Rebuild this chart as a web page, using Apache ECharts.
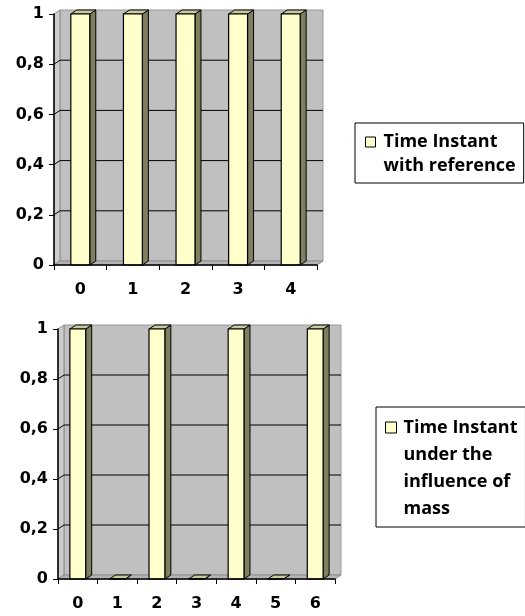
<!DOCTYPE html>
<html>
<head>
<meta charset="utf-8">
<script src="https://cdn.jsdelivr.net/npm/echarts@6/dist/echarts.min.js"></script>
<style>
  html, body { margin: 0; padding: 0; background: #ffffff; }
  #chart { width: 525px; height: 616px; }
</style>
</head>
<body>
<div id="chart"></div>
<script>
// ---- data ----
const categoriesA = ['0', '1', '2', '3', '4'];
const valuesA = [1, 1, 1, 1, 1];
const categoriesB = ['0', '1', '2', '3', '4', '5', '6'];
const valuesB = [1, 0, 1, 0, 1, 0, 1];
const yTicks = [0, 0.2, 0.4, 0.6, 0.8, 1];
const seriesNameA = 'Time Instant\nwith reference';
const seriesNameB = 'Time Instant\nunder the\ninfluence of\nmass';

// ---- style ----
const DX = 6, DY = -4;
const FRONT = '#FFFFCC', SIDE = '#7F7F60', TOP = '#C9C99E';
const tickFont = { fontFamily: 'DejaVu Sans', fontWeight: 'bold', fontSize: 16, color: '#000' };

function wallsRender(params, api) {
  const cs = params.coordSys;
  const L = cs.x, T = cs.y, R = cs.x + cs.width, B = cs.y + cs.height;
  const children = [];
  // back wall
  children.push({ type: 'rect', shape: { x: L + DX, y: T + DY, width: cs.width, height: cs.height },
    style: { fill: '#C0C0C0', stroke: '#9A9A9A', lineWidth: 1 } });
  // left wall
  children.push({ type: 'polygon', shape: { points: [[L, T], [L + DX, T + DY], [L + DX, B + DY], [L, B]] },
    style: { fill: '#CBCBCB', stroke: '#8C8C8C', lineWidth: 1 } });
  // floor
  children.push({ type: 'polygon', shape: { points: [[L, B], [L + DX, B + DY], [R + DX, B + DY], [R, B]] },
    style: { fill: '#B4B4B4', stroke: '#8C8C8C', lineWidth: 1 } });
  // gridlines on back wall
  yTicks.forEach(function (v) {
    if (v === 0 || v === 1) return;
    const y = api.coord([0, v])[1];
    children.push({ type: 'line', shape: { x1: L + DX, y1: y + DY, x2: R + DX, y2: y + DY },
      style: { stroke: '#000', lineWidth: 1 } });
    children.push({ type: 'line', shape: { x1: L, y1: y, x2: L + DX, y2: y + DY },
      style: { stroke: '#000', lineWidth: 1 } });
  });
  return { type: 'group', children: children };
}

function makeBarRender(ratio) {
  return function (params, api) {
    const i = api.value(0), v = api.value(1);
    const base = api.coord([i, 0]);
    const top = api.coord([i, v]);
    const band = api.size([1, 0])[0];
    const w = band * ratio;
    const x0 = base[0] - w / 2, x1 = x0 + w;
    const yT = top[1], yB = base[1];
    return {
      type: 'group',
      children: [
        { type: 'polygon', shape: { points: [[x1, yT], [x1 + DX, yT + DY], [x1 + DX, yB + DY], [x1, yB]] },
          style: { fill: SIDE, stroke: '#000', lineWidth: 1 } },
        { type: 'polygon', shape: { points: [[x0, yT], [x0 + DX, yT + DY], [x1 + DX, yT + DY], [x1, yT]] },
          style: { fill: TOP, stroke: '#000', lineWidth: 1 } },
        { type: 'rect', shape: { x: x0, y: yT, width: w, height: yB - yT },
          style: { fill: FRONT, stroke: '#000', lineWidth: 1.2 } }
      ]
    };
  };
}

function yAxisCfg(idx) {
  return {
    type: 'value', gridIndex: idx, min: 0, max: 1, interval: 0.2,
    axisLine: { show: true, lineStyle: { color: '#000', width: 1.5 } },
    axisTick: { show: true, length: 5, lineStyle: { color: '#000' } },
    splitLine: { show: false },
    axisLabel: Object.assign({ margin: 10, formatter: function (v) { return String(+v.toFixed(1)).replace('.', ','); } }, tickFont),
    z: 5
  };
}
function xAxisCfg(idx, cats) {
  return {
    type: 'category', gridIndex: idx, data: cats,
    axisLine: { show: true, lineStyle: { color: '#000', width: 1.5 } },
    axisTick: { show: true, length: 5, lineStyle: { color: '#000' } },
    axisLabel: Object.assign({ margin: 17 }, tickFont),
    splitLine: { show: false },
    z: 5
  };
}

const chart = echarts.init(document.getElementById('chart'), null, { renderer: 'canvas' });
chart.setOption({
  animation: false,
  backgroundColor: '#ffffff',
  grid: [
    { left: 54, top: 14, width: 263, height: 251 },
    { left: 58, top: 329, width: 277, height: 250 }
  ],
  xAxis: [xAxisCfg(0, categoriesA), xAxisCfg(1, categoriesB)],
  yAxis: [yAxisCfg(0), yAxisCfg(1)],
  legend: [
    {
      data: [{ name: seriesNameA, icon: 'path://M0,0H10V10H0ZM13,34L13,34' }],
      left: 355, top: 123, orient: 'vertical',
      itemWidth: 13, itemHeight: 34,
      padding: [7, 8, 5, 10],
      borderColor: '#000', borderWidth: 1, backgroundColor: '#fff',
      itemStyle: { color: FRONT, borderColor: '#000', borderWidth: 1 },
      textStyle: { fontFamily: 'Open Sans', fontWeight: 'bold', fontSize: 18, lineHeight: 24, color: '#000' }
    },
    {
      data: [{ name: seriesNameB, icon: 'path://M0,0H11V11H0ZM13,92L13,92' }],
      left: 376, top: 407, orient: 'vertical',
      itemWidth: 13, itemHeight: 92,
      padding: [7, 8, 5, 9],
      borderColor: '#000', borderWidth: 1, backgroundColor: '#fff',
      itemStyle: { color: FRONT, borderColor: '#000', borderWidth: 1 },
      textStyle: { fontFamily: 'Open Sans', fontWeight: 'bold', fontSize: 18, lineHeight: 27, color: '#000' }
    }
  ],
  series: [
    { type: 'custom', name: 'wallA', xAxisIndex: 0, yAxisIndex: 0, data: [[0, 0]], renderItem: wallsRender, z: 1, silent: true },
    { type: 'custom', name: 'wallB', xAxisIndex: 1, yAxisIndex: 1, data: [[0, 0]], renderItem: wallsRender, z: 1, silent: true },
    { type: 'custom', name: seriesNameA, xAxisIndex: 0, yAxisIndex: 0, itemStyle: { color: FRONT },
      data: categoriesA.map(function (c, i) { return [i, valuesA[i]]; }), renderItem: makeBarRender(0.36), z: 3 },
    { type: 'custom', name: seriesNameB, xAxisIndex: 1, yAxisIndex: 1, itemStyle: { color: FRONT },
      data: categoriesB.map(function (c, i) { return [i, valuesB[i]]; }), renderItem: makeBarRender(0.4), z: 3 }
  ]
});
</script>
</body>
</html>
